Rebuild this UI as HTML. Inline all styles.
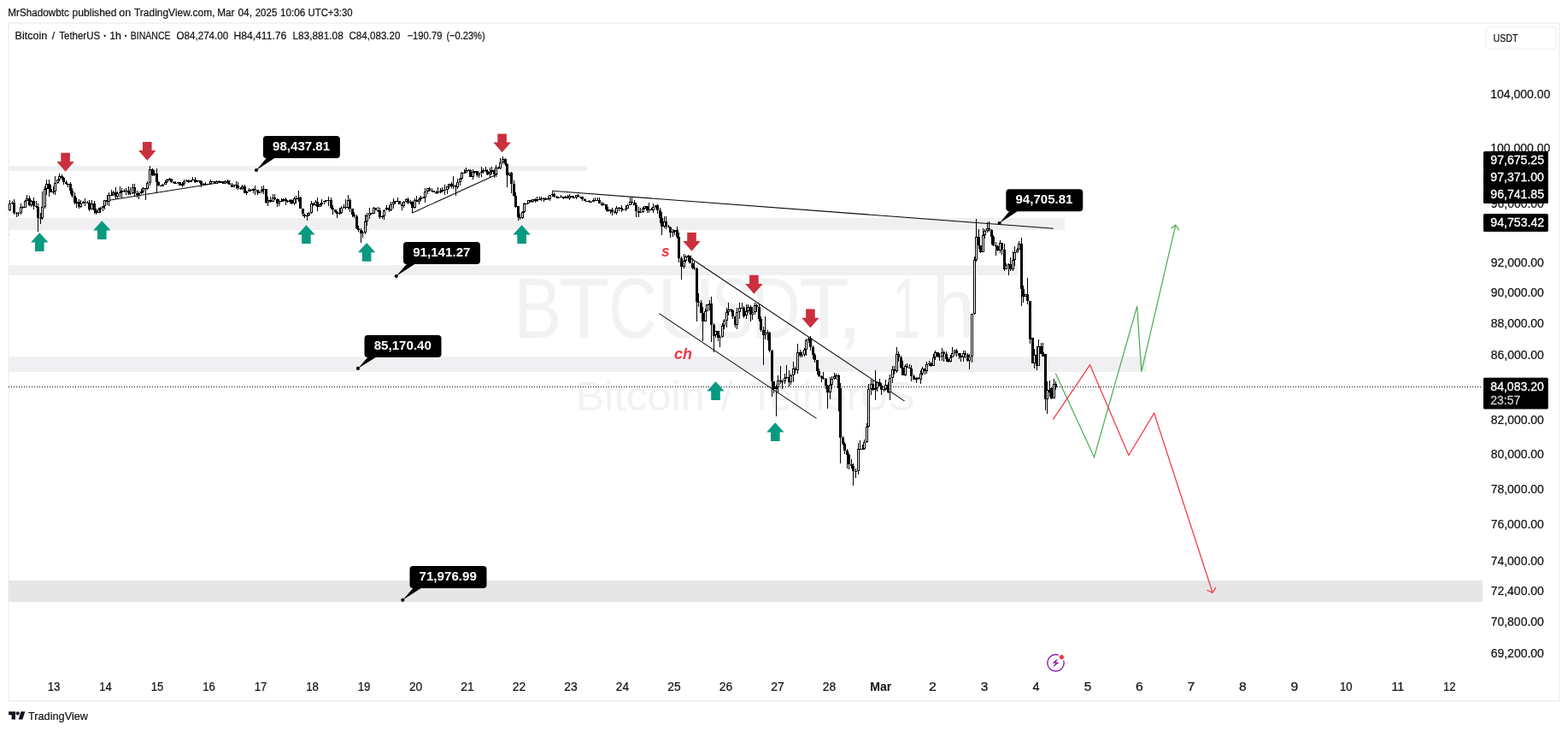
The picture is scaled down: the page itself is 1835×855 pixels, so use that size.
<!DOCTYPE html><html><head><meta charset="utf-8"><title>BTCUSDT chart</title><style>html,body{margin:0;padding:0;background:#fff;overflow:hidden}svg{display:block}</style></head><body><svg width="1835" height="855" viewBox="0 0 1835 855" font-family='"Liberation Sans", Arial, sans-serif'>
<rect width="1835" height="855" fill="#fff"/>
<text y="19.0" font-size="12.5" fill="#111111" font-weight="normal" stroke="#111111" stroke-width="0.22"><tspan x="9.34" textLength="71.57" lengthAdjust="spacingAndGlyphs">MrShadowbtc</tspan> <tspan x="84.52" textLength="51.86" lengthAdjust="spacingAndGlyphs">published</tspan> <tspan x="139.37" textLength="13.94" lengthAdjust="spacingAndGlyphs">on</tspan> <tspan x="156.93" textLength="94.63" lengthAdjust="spacingAndGlyphs">TradingView.com,</tspan> <tspan x="254.24" textLength="20.15" lengthAdjust="spacingAndGlyphs">Mar</tspan> <tspan x="278.44" textLength="16.53" lengthAdjust="spacingAndGlyphs">04,</tspan> <tspan x="298.72" textLength="25.56" lengthAdjust="spacingAndGlyphs">2025</tspan> <tspan x="328.11" textLength="29.2" lengthAdjust="spacingAndGlyphs">10:06</tspan> <tspan x="360.52" textLength="52.02" lengthAdjust="spacingAndGlyphs">UTC+3:30</tspan></text>
<rect x="10" y="27" width="1815" height="793" fill="#fff" stroke="#f3f3f4" stroke-width="2" shape-rendering="crispEdges"/>
<text y="394.9" font-size="101" fill="#f2f2f3" font-weight="normal"><tspan x="601.43" textLength="55.89" lengthAdjust="spacingAndGlyphs">B</tspan><tspan x="654.02" textLength="59.2" lengthAdjust="spacingAndGlyphs">T</tspan><tspan x="711.91" textLength="56.79" lengthAdjust="spacingAndGlyphs">C</tspan><tspan x="769.19" textLength="67.53" lengthAdjust="spacingAndGlyphs">U</tspan><tspan x="832.79" textLength="48.55" lengthAdjust="spacingAndGlyphs">S</tspan><tspan x="879.28" textLength="57.43" lengthAdjust="spacingAndGlyphs">D</tspan><tspan x="935.15" textLength="58.34" lengthAdjust="spacingAndGlyphs">T</tspan><tspan x="977.97" textLength="32.55" lengthAdjust="spacingAndGlyphs">,</tspan></text>
<text y="394.9" font-size="101" fill="#f2f2f3" font-weight="normal"><tspan x="1044.43" textLength="32.63" lengthAdjust="spacingAndGlyphs">1</tspan><tspan x="1090.49" textLength="50.62" lengthAdjust="spacingAndGlyphs">h</tspan></text>
<text y="479.8" font-size="48.5" fill="#f2f2f3" font-weight="normal"><tspan x="673.88" textLength="150.68" lengthAdjust="spacingAndGlyphs">Bitcoin</tspan> <tspan x="843.5" textLength="14.3" lengthAdjust="spacingAndGlyphs">/</tspan> <tspan x="877.59" textLength="193.08" lengthAdjust="spacingAndGlyphs">TetherUS</tspan></text>
<rect x="10" y="194" width="677" height="6" fill="#f0f0f2" shape-rendering="crispEdges"/>
<rect x="10" y="255" width="1236" height="14" fill="#f0f0f2" shape-rendering="crispEdges"/>
<rect x="10" y="310" width="1181" height="12" fill="#f0f0f2" shape-rendering="crispEdges"/>
<rect x="10" y="417" width="1332" height="18" fill="#f0f0f2" shape-rendering="crispEdges"/>
<rect x="10" y="679" width="1725" height="25" fill="#e6e6e6" shape-rendering="crispEdges"/>
<line x1="10" y1="452.5" x2="1735" y2="452.5" stroke="#0a0a0a" stroke-width="1" stroke-dasharray="1 2" shape-rendering="crispEdges"/>
<line x1="126.1" y1="234.5" x2="269.6" y2="211.6" stroke="#0a0a0a" stroke-width="1.05" fill="none"/>
<line x1="481.9" y1="249.3" x2="582.6" y2="203.4" stroke="#0a0a0a" stroke-width="1.05" fill="none"/>
<line x1="645.9" y1="223.3" x2="1232.7" y2="267.2" stroke="#0a0a0a" stroke-width="1.05" fill="none"/>
<line x1="804.6" y1="299.5" x2="1058.6" y2="469.1" stroke="#0a0a0a" stroke-width="1.05" fill="none"/>
<line x1="771.3" y1="366.6" x2="955.5" y2="489.4" stroke="#0a0a0a" stroke-width="1.05" fill="none"/>
<clipPath id="pane"><rect x="10" y="28" width="1725" height="791"/></clipPath><g clip-path="url(#pane)">
<path d="M9.5 241.2V246.7M11.5 234.4V247.4M14.5 234.9V239.1M16.5 233.2V250.7M19.5 248.0V254.0M21.5 247.8V253.1M24.5 238.2V250.7M26.5 241.1V243.9M29.5 233.7V242.9M31.5 227.6V234.9M34.5 228.8V241.0M36.5 234.3V241.9M39.5 231.4V245.0M42.5 235.2V243.3M44.5 237.6V271.0M47.5 249.0V262.0M49.5 223.5V257.2M52.5 217.8V243.9M54.5 209.9V227.7M57.5 210.4V230.0M59.5 215.5V224.9M62.5 218.4V226.6M64.5 206.3V227.7M67.5 210.0V215.3M69.5 202.9V212.1M72.5 204.0V210.3M74.5 206.9V215.8M77.5 210.9V216.4M79.5 214.5V219.3M82.5 212.7V226.8M84.5 219.9V230.6M87.5 224.5V238.9M89.5 230.9V243.2M92.5 233.4V243.8M94.5 234.0V242.5M97.5 235.2V238.4M99.5 232.2V241.4M102.5 235.2V238.3M104.5 233.7V247.0M107.5 234.4V245.0M110.5 234.7V249.9M112.5 243.6V251.0M115.5 243.3V249.4M117.5 241.9V249.4M120.5 240.9V246.6M122.5 233.7V245.0M125.5 227.7V239.7M127.5 225.4V240.8M130.5 222.4V228.4M132.5 223.0V228.5M135.5 218.6V233.2M137.5 223.5V231.7M140.5 218.1V231.2M142.5 219.8V231.7M145.5 220.5V225.3M147.5 220.4V228.0M150.5 218.1V227.8M152.5 219.1V227.8M155.5 214.5V226.9M157.5 215.1V230.4M160.5 223.3V230.8M162.5 224.1V232.9M165.5 220.6V227.0M167.5 219.4V226.0M170.5 219.8V234.0M172.5 211.8V221.7M175.5 194.4V216.8M178.5 196.7V206.3M180.5 199.1V205.6M183.5 196.8V226.0M185.5 212.1V218.2M188.5 215.6V217.7M190.5 215.1V218.3M193.5 211.3V215.9M195.5 208.9V213.8M198.5 207.9V210.5M200.5 209.3V214.1M203.5 211.8V214.5M205.5 212.3V215.0M208.5 212.5V214.5M210.5 212.7V217.2M213.5 213.1V218.9M215.5 210.1V216.8M218.5 210.3V213.0M220.5 209.6V213.5M223.5 210.8V213.0M225.5 207.0V211.0M228.5 207.3V213.9M230.5 210.6V213.1M233.5 210.5V214.3M235.5 211.1V218.8M238.5 213.7V217.1M240.5 212.9V215.8M243.5 214.6V215.3M246.5 209.8V216.3M248.5 211.7V212.6M251.5 212.4V215.3M253.5 210.7V214.9M256.5 211.3V214.2M258.5 211.7V212.5M261.5 212.1V214.6M263.5 211.2V214.8M266.5 210.2V214.5M268.5 210.8V216.3M271.5 214.4V218.8M273.5 215.5V219.3M276.5 212.4V220.6M278.5 213.2V222.0M281.5 219.4V221.6M283.5 216.3V221.6M286.5 216.4V226.0M288.5 223.0V228.0M291.5 220.0V224.3M293.5 221.1V223.5M296.5 220.3V225.5M298.5 217.4V228.0M301.5 221.6V227.8M303.5 224.0V225.6M306.5 218.0V225.6M308.5 216.7V226.5M311.5 220.5V238.1M313.5 229.6V241.1M316.5 230.4V236.9M319.5 226.6V235.8M321.5 227.3V234.4M324.5 231.8V242.0M326.5 233.1V240.5M329.5 232.0V236.1M331.5 232.3V235.8M334.5 230.8V240.0M336.5 233.5V236.5M339.5 233.2V237.6M341.5 232.9V238.5M344.5 230.1V239.6M346.5 229.3V237.6M349.5 222.5V236.3M351.5 229.6V244.1M354.5 243.5V252.8M356.5 250.0V254.6M359.5 248.6V257.8M361.5 248.1V252.5M364.5 235.4V250.0M366.5 237.0V240.6M369.5 233.9V240.7M371.5 230.7V246.8M374.5 237.5V242.4M376.5 232.8V241.4M379.5 234.7V239.3M381.5 233.5V237.4M384.5 230.4V240.9M387.5 230.6V244.7M389.5 240.4V251.1M392.5 245.1V248.9M394.5 246.5V254.5M397.5 242.6V250.5M399.5 240.6V249.7M402.5 238.9V244.3M404.5 233.0V245.1M407.5 228.0V244.6M409.5 231.9V248.3M412.5 243.6V254.2M414.5 248.3V254.6M417.5 251.4V268.3M419.5 264.3V270.5M422.5 267.2V283.7M424.5 270.2V277.5M427.5 251.4V274.2M429.5 249.2V264.2M432.5 242.8V255.5M434.5 249.1V251.1M437.5 242.0V250.0M439.5 243.3V245.6M442.5 242.0V247.5M444.5 243.3V256.4M447.5 252.2V256.0M449.5 244.8V256.6M452.5 240.3V245.5M455.5 240.2V248.1M457.5 236.1V246.5M460.5 231.8V244.2M462.5 234.5V239.0M465.5 231.3V235.8M467.5 235.0V238.7M470.5 236.7V246.0M472.5 234.9V242.7M475.5 232.3V236.6M477.5 230.8V238.5M480.5 234.4V238.8M482.5 234.5V248.8M485.5 231.8V243.7M487.5 228.8V236.4M490.5 231.1V239.0M492.5 229.0V235.3M495.5 229.5V231.7M497.5 220.1V236.7M500.5 220.0V226.8M502.5 219.0V223.5M505.5 220.2V224.0M507.5 222.5V225.3M510.5 222.8V226.9M512.5 218.7V227.1M515.5 219.7V225.6M517.5 218.7V225.0M520.5 215.8V227.8M523.5 218.0V227.1M525.5 214.6V221.3M528.5 213.3V219.6M530.5 205.9V220.6M533.5 216.2V228.9M535.5 208.9V220.8M538.5 208.3V216.5M540.5 200.6V210.1M543.5 198.1V203.0M545.5 195.5V202.0M548.5 198.0V199.8M550.5 197.6V207.2M553.5 198.4V209.7M555.5 199.8V203.4M558.5 200.3V207.2M560.5 201.6V207.6M563.5 195.3V207.0M565.5 197.0V202.7M568.5 194.5V201.0M570.5 198.0V205.0M573.5 196.4V207.5M575.5 195.0V204.4M578.5 198.2V207.5M580.5 192.7V206.8M583.5 194.5V197.7M585.5 185.4V197.6M588.5 182.9V192.3M591.5 184.9V194.0M593.5 191.3V219.0M596.5 201.5V205.9M598.5 200.7V226.1M601.5 210.7V229.5M603.5 224.9V242.9M606.5 241.0V257.5M608.5 250.1V257.0M611.5 247.0V255.5M613.5 236.5V248.6M616.5 237.8V238.3M618.5 234.0V238.4M621.5 233.9V237.3M623.5 232.5V236.6M626.5 232.4V236.9M628.5 230.4V235.9M631.5 230.4V234.3M633.5 230.2V234.8M636.5 230.8V236.4M638.5 231.4V234.3M641.5 229.9V233.6M643.5 227.9V235.2M646.5 224.4V229.9M648.5 225.4V230.7M651.5 229.4V231.8M653.5 229.6V231.7M656.5 228.3V231.3M659.5 229.5V233.4M661.5 229.1V232.3M664.5 228.3V232.3M666.5 227.4V233.7M669.5 229.0V230.8M671.5 228.9V231.0M674.5 228.0V232.9M676.5 227.4V230.6M679.5 229.7V231.9M681.5 229.9V234.5M684.5 232.4V234.9M686.5 234.5V236.3M689.5 234.4V237.1M691.5 234.9V236.4M694.5 232.2V235.8M696.5 231.1V234.8M699.5 231.2V234.9M701.5 230.6V237.9M704.5 236.2V240.5M706.5 236.5V239.8M709.5 238.5V246.6M711.5 241.5V247.9M714.5 244.7V250.2M716.5 243.3V252.0M719.5 246.2V250.3M721.5 240.8V251.2M724.5 241.6V246.5M727.5 239.8V248.4M729.5 244.7V245.5M732.5 240.3V246.7M734.5 238.9V244.3M737.5 231.0V240.4M739.5 231.2V239.1M742.5 233.9V240.1M744.5 236.9V254.0M747.5 241.9V253.5M749.5 243.0V248.9M752.5 241.6V248.8M754.5 240.7V244.6M757.5 241.1V249.0M759.5 237.0V249.1M762.5 243.2V246.4M764.5 238.1V248.7M767.5 239.6V244.1M769.5 239.3V250.4M772.5 243.4V260.8M774.5 247.7V275.0M777.5 252.6V267.4M779.5 253.0V268.0M782.5 262.8V266.4M784.5 264.8V278.0M787.5 267.5V276.8M789.5 269.3V275.0M792.5 264.6V278.5M794.5 272.3V306.8M797.5 300.0V326.8M800.5 297.4V313.6M802.5 298.0V307.4M805.5 297.9V305.9M807.5 298.7V308.3M810.5 301.5V314.7M812.5 305.7V316.3M815.5 313.4V375.6M817.5 343.0V358.9M820.5 351.4V366.3M822.5 359.4V399.4M825.5 360.9V376.1M827.5 355.9V363.7M830.5 351.0V363.3M832.5 347.3V400.0M835.5 377.7V412.0M837.5 386.8V394.8M840.5 386.6V399.2M842.5 391.6V406.0M845.5 378.4V395.1M847.5 373.1V384.9M850.5 359.6V382.6M852.5 353.5V368.9M855.5 361.4V364.5M857.5 362.3V372.7M860.5 370.2V382.8M862.5 359.5V384.7M865.5 354.0V372.6M868.5 353.5V361.0M870.5 358.2V372.3M873.5 355.9V373.0M875.5 356.0V366.3M878.5 357.4V376.0M880.5 358.5V373.9M883.5 353.9V368.2M885.5 354.5V365.1M888.5 356.2V376.4M890.5 369.9V388.4M893.5 382.4V426.7M895.5 370.0V397.2M898.5 385.7V397.9M900.5 387.8V411.6M903.5 409.0V464.0M905.5 445.9V459.5M908.5 450.3V487.3M910.5 439.4V459.4M913.5 427.5V449.1M915.5 443.8V455.0M918.5 437.4V449.1M920.5 426.7V442.6M923.5 432.7V452.0M925.5 437.1V450.4M928.5 422.7V446.8M930.5 429.0V437.1M933.5 402.0V437.2M936.5 409.4V417.9M938.5 410.8V418.0M941.5 406.5V416.6M943.5 396.0V415.8M946.5 393.8V400.8M948.5 393.0V410.2M951.5 404.2V419.7M953.5 412.9V424.2M956.5 420.5V437.5M958.5 431.3V440.8M961.5 438.5V447.0M963.5 435.0V443.8M966.5 441.5V455.1M968.5 450.0V478.3M971.5 441.2V467.4M973.5 440.0V454.7M976.5 436.0V444.4M978.5 436.9V444.2M981.5 437.9V481.0M983.5 448.3V541.6M986.5 510.4V520.5M988.5 517.4V531.3M991.5 525.2V548.0M993.5 530.1V548.8M996.5 537.4V548.3M998.5 542.0V567.8M1001.5 548.1V558.6M1004.5 518.0V555.0M1006.5 515.0V525.4M1009.5 519.5V526.0M1011.5 513.7V526.4M1014.5 494.5V517.7M1016.5 448.5V500.4M1019.5 444.0V462.0M1021.5 444.0V457.2M1024.5 433.0V468.0M1026.5 445.7V457.5M1029.5 443.4V452.4M1031.5 447.5V462.2M1034.5 454.5V458.4M1036.5 443.6V456.6M1039.5 446.6V460.4M1041.5 438.2V467.5M1044.5 427.8V447.5M1046.5 427.9V438.0M1049.5 406.0V436.1M1051.5 411.0V423.3M1054.5 416.4V430.7M1056.5 421.8V439.4M1059.5 425.5V439.9M1061.5 425.0V430.4M1064.5 425.5V431.4M1066.5 427.2V446.0M1069.5 437.9V444.2M1072.5 441.2V447.5M1074.5 441.3V443.8M1077.5 433.1V448.6M1079.5 429.3V438.8M1082.5 431.2V438.0M1084.5 423.4V437.0M1087.5 421.7V428.1M1089.5 423.1V428.6M1092.5 414.4V428.1M1094.5 410.3V421.1M1097.5 411.5V418.4M1099.5 412.8V422.0M1102.5 407.0V421.7M1104.5 410.1V423.1M1107.5 410.8V423.1M1109.5 418.2V424.0M1112.5 414.9V424.0M1114.5 405.5V418.1M1117.5 408.7V415.7M1119.5 408.3V416.6M1122.5 413.4V420.4M1124.5 413.2V423.2M1127.5 409.7V422.5M1129.5 410.4V419.0M1132.5 413.2V423.0M1134.5 414.0V432.2M1137.5 366.5V424.3M1140.5 299.9V367.9M1142.5 256.0V305.8M1145.5 267.5V290.5M1147.5 286.5V296.4M1150.5 267.0V295.3M1152.5 267.8V279.4M1155.5 260.1V272.1M1157.5 258.5V270.6M1160.5 268.4V286.4M1162.5 275.2V287.8M1165.5 282.6V299.4M1167.5 286.5V293.9M1170.5 281.3V296.1M1172.5 283.7V298.3M1175.5 285.4V317.2M1177.5 307.7V315.2M1180.5 308.0V322.4M1182.5 301.2V317.0M1185.5 293.8V316.6M1187.5 287.6V310.8M1190.5 290.2V296.3M1192.5 282.4V292.4M1195.5 278.0V358.0M1197.5 333.9V354.4M1200.5 343.6V346.9M1202.5 325.0V356.4M1205.5 351.5V401.5M1208.5 395.4V424.9M1210.5 408.0V430.5M1213.5 405.0V432.6M1215.5 396.8V428.4M1218.5 401.0V413.7M1220.5 401.0V417.2M1223.5 413.7V479.6M1225.5 446.0V483.8M1228.5 445.0V464.0M1230.5 453.0V467.0M1233.5 443.0V465.6M1235.5 446.0V456.0" stroke="#000" stroke-width="1" fill="none" shape-rendering="crispEdges"/>
<path d="M8 242.0h3v4.0h-3zM15 237.1h3v12.1h-3zM25 241.7h3v1.0h-3zM33 231.5h3v8.1h-3zM38 235.0h3v6.4h-3zM41 241.4h3v1.0h-3zM43 241.6h3v13.3h-3zM46 254.9h3v1.0h-3zM56 215.1h3v6.3h-3zM58 221.4h3v3.3h-3zM71 206.2h3v1.3h-3zM73 207.5h3v5.1h-3zM76 212.6h3v2.2h-3zM78 214.8h3v1.0h-3zM81 214.9h3v7.7h-3zM83 222.6h3v6.6h-3zM86 229.1h3v8.3h-3zM91 236.3h3v5.3h-3zM98 236.4h3v1.0h-3zM103 236.6h3v8.3h-3zM109 238.0h3v7.7h-3zM111 245.7h3v3.4h-3zM124 234.4h3v1.6h-3zM129 227.6h3v1.0h-3zM134 225.1h3v4.5h-3zM146 222.8h3v1.0h-3zM149 222.9h3v3.1h-3zM151 226.1h3v1.0h-3zM156 218.7h3v7.0h-3zM159 225.7h3v1.9h-3zM169 220.0h3v1.0h-3zM177 197.9h3v7.3h-3zM182 202.5h3v10.8h-3zM184 213.3h3v3.8h-3zM187 217.1h3v1.0h-3zM199 209.4h3v3.2h-3zM202 212.6h3v1.4h-3zM204 214.0h3v1.0h-3zM209 213.2h3v3.5h-3zM219 210.7h3v2.1h-3zM227 209.8h3v2.7h-3zM232 211.4h3v1.0h-3zM234 212.4h3v3.9h-3zM242 214.6h3v1.0h-3zM247 211.8h3v1.0h-3zM250 212.4h3v2.3h-3zM255 211.7h3v1.0h-3zM260 212.4h3v2.2h-3zM265 211.9h3v2.0h-3zM267 213.9h3v1.6h-3zM270 215.5h3v3.1h-3zM275 215.9h3v1.2h-3zM277 217.1h3v2.5h-3zM280 219.6h3v1.3h-3zM285 218.1h3v7.4h-3zM292 221.6h3v1.0h-3zM297 221.4h3v1.0h-3zM300 222.1h3v2.9h-3zM310 221.1h3v15.4h-3zM315 233.6h3v2.2h-3zM320 230.9h3v1.9h-3zM323 232.8h3v5.6h-3zM328 234.6h3v1.0h-3zM333 232.9h3v2.3h-3zM335 235.2h3v1.0h-3zM340 234.1h3v4.2h-3zM345 232.4h3v1.0h-3zM350 230.5h3v13.1h-3zM353 243.6h3v6.8h-3zM355 250.5h3v2.4h-3zM365 237.7h3v1.9h-3zM370 235.5h3v6.0h-3zM383 234.0h3v1.0h-3zM386 234.2h3v8.9h-3zM388 243.2h3v2.1h-3zM391 245.3h3v2.9h-3zM393 248.2h3v2.0h-3zM403 241.7h3v1.3h-3zM408 233.5h3v10.3h-3zM411 243.8h3v6.8h-3zM413 250.7h3v2.5h-3zM416 253.1h3v13.4h-3zM418 266.6h3v2.7h-3zM421 269.3h3v3.6h-3zM433 249.1h3v1.0h-3zM438 243.3h3v2.2h-3zM441 245.5h3v1.0h-3zM443 245.6h3v8.4h-3zM454 242.5h3v3.5h-3zM464 234.9h3v1.0h-3zM466 235.3h3v3.2h-3zM469 238.5h3v2.5h-3zM476 233.3h3v3.3h-3zM481 236.0h3v6.7h-3zM486 234.4h3v1.9h-3zM494 230.7h3v1.0h-3zM501 220.2h3v3.0h-3zM506 223.1h3v1.9h-3zM527 214.9h3v3.3h-3zM532 216.6h3v2.7h-3zM547 199.1h3v1.0h-3zM549 199.2h3v7.7h-3zM557 200.4h3v5.0h-3zM567 199.4h3v1.0h-3zM569 200.2h3v4.2h-3zM577 198.8h3v4.7h-3zM582 195.5h3v1.1h-3zM590 185.6h3v6.6h-3zM592 192.3h3v12.2h-3zM597 202.3h3v12.5h-3zM600 214.7h3v14.4h-3zM602 229.2h3v12.3h-3zM605 241.4h3v12.1h-3zM607 253.5h3v1.7h-3zM615 237.9h3v1.0h-3zM620 234.4h3v1.9h-3zM625 233.1h3v1.6h-3zM630 233.0h3v1.0h-3zM635 231.9h3v1.5h-3zM640 231.8h3v1.0h-3zM647 226.7h3v3.1h-3zM650 229.8h3v1.1h-3zM652 230.9h3v1.0h-3zM658 229.8h3v2.2h-3zM663 229.5h3v2.1h-3zM668 229.4h3v1.3h-3zM675 228.2h3v1.7h-3zM678 229.9h3v1.0h-3zM680 229.9h3v3.5h-3zM683 233.4h3v1.3h-3zM685 234.7h3v1.0h-3zM688 234.8h3v1.1h-3zM695 234.0h3v1.0h-3zM700 233.7h3v4.0h-3zM703 237.7h3v1.9h-3zM708 238.5h3v6.3h-3zM710 244.9h3v1.9h-3zM715 245.2h3v2.7h-3zM718 247.9h3v1.3h-3zM723 242.8h3v1.0h-3zM726 242.9h3v1.8h-3zM728 244.7h3v1.0h-3zM738 236.0h3v1.3h-3zM741 237.3h3v2.4h-3zM743 239.7h3v7.0h-3zM746 246.7h3v1.9h-3zM756 241.4h3v4.5h-3zM761 244.8h3v1.3h-3zM768 239.7h3v5.8h-3zM771 245.5h3v9.7h-3zM773 255.2h3v9.7h-3zM778 258.5h3v6.1h-3zM781 264.6h3v1.4h-3zM783 266.1h3v6.3h-3zM791 269.4h3v7.8h-3zM793 277.2h3v25.1h-3zM796 302.2h3v9.7h-3zM806 299.4h3v8.5h-3zM809 307.9h3v4.8h-3zM811 312.7h3v1.0h-3zM814 313.6h3v39.3h-3zM816 352.9h3v1.2h-3zM819 354.1h3v11.5h-3zM821 365.6h3v10.4h-3zM831 355.4h3v24.4h-3zM834 379.8h3v12.7h-3zM839 387.0h3v7.6h-3zM854 362.4h3v1.0h-3zM856 362.5h3v7.9h-3zM859 370.3h3v9.5h-3zM867 359.9h3v1.0h-3zM869 360.0h3v9.5h-3zM877 359.2h3v9.2h-3zM884 357.3h3v1.9h-3zM887 359.2h3v13.9h-3zM889 373.1h3v12.8h-3zM892 385.9h3v6.2h-3zM897 388.5h3v1.0h-3zM899 389.1h3v21.2h-3zM902 410.3h3v35.6h-3zM904 445.9h3v9.4h-3zM912 445.3h3v1.0h-3zM922 440.8h3v6.0h-3zM929 431.1h3v2.1h-3zM935 412.0h3v3.7h-3zM947 396.4h3v9.2h-3zM950 405.6h3v9.2h-3zM952 414.8h3v6.2h-3zM955 421.0h3v12.6h-3zM957 433.6h3v6.0h-3zM960 439.6h3v2.2h-3zM962 441.8h3v1.5h-3zM965 443.3h3v7.9h-3zM967 451.2h3v8.0h-3zM980 438.5h3v15.2h-3zM982 453.7h3v58.5h-3zM985 512.1h3v7.0h-3zM987 519.1h3v7.6h-3zM990 526.7h3v5.5h-3zM992 532.3h3v10.3h-3zM995 542.5h3v2.3h-3zM997 544.8h3v6.6h-3zM1005 524.9h3v1.0h-3zM1020 448.9h3v7.5h-3zM1028 446.6h3v5.8h-3zM1030 452.4h3v4.0h-3zM1038 449.8h3v9.5h-3zM1045 432.3h3v1.4h-3zM1050 413.8h3v4.3h-3zM1053 418.0h3v11.8h-3zM1055 429.9h3v8.9h-3zM1060 428.4h3v1.8h-3zM1063 430.2h3v1.0h-3zM1065 430.7h3v9.7h-3zM1068 440.4h3v3.5h-3zM1073 442.2h3v1.2h-3zM1081 431.4h3v2.5h-3zM1088 424.8h3v2.9h-3zM1096 411.7h3v5.1h-3zM1103 412.3h3v1.9h-3zM1106 414.2h3v6.0h-3zM1108 420.1h3v3.0h-3zM1118 409.7h3v3.7h-3zM1121 413.4h3v3.0h-3zM1123 416.4h3v1.9h-3zM1128 413.1h3v2.1h-3zM1131 415.3h3v6.5h-3zM1144 277.1h3v10.3h-3zM1146 287.3h3v7.6h-3zM1156 267.3h3v1.9h-3zM1159 269.1h3v7.4h-3zM1161 276.5h3v10.0h-3zM1164 286.5h3v1.3h-3zM1166 287.8h3v5.0h-3zM1171 284.2h3v7.4h-3zM1174 291.6h3v22.9h-3zM1181 309.0h3v5.6h-3zM1194 284.8h3v53.4h-3zM1196 338.2h3v8.4h-3zM1201 344.4h3v7.4h-3zM1204 351.8h3v45.3h-3zM1207 395.4h3v29.5h-3zM1212 415.0h3v13.0h-3zM1217 404.5h3v9.2h-3zM1219 412.3h3v4.9h-3zM1222 413.7h3v53.3h-3zM1227 455.7h3v3.3h-3zM1229 453.6h3v12.7h-3zM1234 448.7h3v4.3h-3z" fill="#000" shape-rendering="crispEdges"/>
<path d="M10.5 238.4h2v7.1h-2zM13.5 237.6h2v0.2h-2zM18.5 249.5h2v0.2h-2zM20.5 249.2h2v0.2h-2zM23.5 242.2h2v6.0h-2zM28.5 235.3h2v6.8h-2zM30.5 232.0h2v2.3h-2zM35.5 235.5h2v3.6h-2zM48.5 242.1h2v12.6h-2zM51.5 221.7h2v19.3h-2zM53.5 215.6h2v5.1h-2zM61.5 224.7h2v0.2h-2zM63.5 214.2h2v9.5h-2zM66.5 210.7h2v2.5h-2zM68.5 206.7h2v3.0h-2zM88.5 236.8h2v0.2h-2zM93.5 238.0h2v3.1h-2zM96.5 236.9h2v0.2h-2zM101.5 237.1h2v0.2h-2zM106.5 238.5h2v5.9h-2zM114.5 245.5h2v3.1h-2zM116.5 243.7h2v0.8h-2zM119.5 241.6h2v1.2h-2zM121.5 234.9h2v5.7h-2zM126.5 228.1h2v7.4h-2zM131.5 225.6h2v2.0h-2zM136.5 226.8h2v2.2h-2zM139.5 225.5h2v0.3h-2zM141.5 223.6h2v0.9h-2zM144.5 223.3h2v0.2h-2zM154.5 219.2h2v6.4h-2zM161.5 226.1h2v0.9h-2zM164.5 224.2h2v1.0h-2zM166.5 220.5h2v2.6h-2zM171.5 214.5h2v5.8h-2zM174.5 198.4h2v15.1h-2zM179.5 203.0h2v1.6h-2zM189.5 216.3h2v0.7h-2zM192.5 213.3h2v2.0h-2zM194.5 210.6h2v1.7h-2zM197.5 209.9h2v0.2h-2zM207.5 213.7h2v0.2h-2zM212.5 215.9h2v0.3h-2zM214.5 212.7h2v2.2h-2zM217.5 211.2h2v0.5h-2zM222.5 211.3h2v0.9h-2zM224.5 210.3h2v0.2h-2zM229.5 211.9h2v0.2h-2zM237.5 215.6h2v0.2h-2zM239.5 215.1h2v0.2h-2zM245.5 212.3h2v2.3h-2zM252.5 212.2h2v2.0h-2zM257.5 212.9h2v0.2h-2zM262.5 212.4h2v1.7h-2zM272.5 216.4h2v1.7h-2zM282.5 218.6h2v1.9h-2zM287.5 224.8h2v0.2h-2zM290.5 222.1h2v1.7h-2zM295.5 221.9h2v0.2h-2zM302.5 224.9h2v0.2h-2zM305.5 222.8h2v1.1h-2zM307.5 221.6h2v0.2h-2zM312.5 234.1h2v2.0h-2zM318.5 231.4h2v3.8h-2zM325.5 235.1h2v2.7h-2zM330.5 233.4h2v1.1h-2zM338.5 234.6h2v0.8h-2zM343.5 232.9h2v4.8h-2zM348.5 231.0h2v1.2h-2zM358.5 252.3h2v0.2h-2zM360.5 249.0h2v2.3h-2zM363.5 238.2h2v9.8h-2zM368.5 236.0h2v3.1h-2zM373.5 239.7h2v1.3h-2zM375.5 237.0h2v1.8h-2zM378.5 235.4h2v0.5h-2zM380.5 234.5h2v0.2h-2zM396.5 249.4h2v0.4h-2zM398.5 243.3h2v5.0h-2zM401.5 242.2h2v0.2h-2zM406.5 234.0h2v8.6h-2zM423.5 272.6h2v0.2h-2zM426.5 259.2h2v12.4h-2zM428.5 252.1h2v6.2h-2zM431.5 249.6h2v1.4h-2zM436.5 243.8h2v5.5h-2zM446.5 253.5h2v0.2h-2zM448.5 246.0h2v6.5h-2zM451.5 243.0h2v1.9h-2zM456.5 239.4h2v6.1h-2zM459.5 236.7h2v1.7h-2zM461.5 235.4h2v0.3h-2zM471.5 236.2h2v4.2h-2zM474.5 233.8h2v1.4h-2zM479.5 236.5h2v0.2h-2zM484.5 234.9h2v7.4h-2zM489.5 233.5h2v2.3h-2zM491.5 231.2h2v1.3h-2zM496.5 224.6h2v6.1h-2zM499.5 220.7h2v2.9h-2zM504.5 223.6h2v0.2h-2zM509.5 225.3h2v0.2h-2zM511.5 224.7h2v0.2h-2zM514.5 224.5h2v0.2h-2zM516.5 222.8h2v0.7h-2zM519.5 222.1h2v0.2h-2zM522.5 218.7h2v2.3h-2zM524.5 215.4h2v2.3h-2zM529.5 217.1h2v0.7h-2zM534.5 213.4h2v5.4h-2zM537.5 209.6h2v2.8h-2zM539.5 202.8h2v5.8h-2zM542.5 202.0h2v0.2h-2zM544.5 199.6h2v1.4h-2zM552.5 201.8h2v4.6h-2zM554.5 200.9h2v0.2h-2zM559.5 202.3h2v2.5h-2zM562.5 201.4h2v0.2h-2zM564.5 199.9h2v0.4h-2zM572.5 201.0h2v2.9h-2zM574.5 199.3h2v0.7h-2zM579.5 196.0h2v7.0h-2zM584.5 190.2h2v5.9h-2zM587.5 186.1h2v3.1h-2zM595.5 202.8h2v1.2h-2zM610.5 248.2h2v6.5h-2zM612.5 238.4h2v8.7h-2zM617.5 234.9h2v2.7h-2zM622.5 233.6h2v2.2h-2zM627.5 233.5h2v0.7h-2zM632.5 232.4h2v0.2h-2zM637.5 232.3h2v0.7h-2zM642.5 228.8h2v3.3h-2zM645.5 227.2h2v0.6h-2zM655.5 230.3h2v0.4h-2zM660.5 230.0h2v1.5h-2zM665.5 229.9h2v1.1h-2zM670.5 231.1h2v0.2h-2zM673.5 228.7h2v1.3h-2zM690.5 236.0h2v0.2h-2zM693.5 234.5h2v0.5h-2zM698.5 234.2h2v0.2h-2zM705.5 239.0h2v0.2h-2zM713.5 245.7h2v0.6h-2zM720.5 243.3h2v5.5h-2zM731.5 244.4h2v0.2h-2zM733.5 240.0h2v3.4h-2zM736.5 236.5h2v2.5h-2zM748.5 248.1h2v0.2h-2zM751.5 244.1h2v3.0h-2zM753.5 241.9h2v1.2h-2zM758.5 245.3h2v0.2h-2zM763.5 242.4h2v3.1h-2zM766.5 240.2h2v1.3h-2zM776.5 259.0h2v5.4h-2zM786.5 271.7h2v0.2h-2zM788.5 269.9h2v0.8h-2zM799.5 305.5h2v5.9h-2zM801.5 300.8h2v3.6h-2zM804.5 299.9h2v0.2h-2zM824.5 364.1h2v11.4h-2zM826.5 356.8h2v6.3h-2zM829.5 355.9h2v0.2h-2zM836.5 387.5h2v4.4h-2zM841.5 394.6h2v0.2h-2zM844.5 381.4h2v12.2h-2zM846.5 375.0h2v5.4h-2zM849.5 365.6h2v8.4h-2zM851.5 362.9h2v1.6h-2zM861.5 365.6h2v13.7h-2zM864.5 360.4h2v4.3h-2zM872.5 364.5h2v4.4h-2zM874.5 359.7h2v3.8h-2zM879.5 365.8h2v2.1h-2zM882.5 357.8h2v7.0h-2zM894.5 389.0h2v2.6h-2zM907.5 453.8h2v1.0h-2zM909.5 445.8h2v7.0h-2zM914.5 446.5h2v0.2h-2zM917.5 442.1h2v3.5h-2zM919.5 441.3h2v0.2h-2zM924.5 439.2h2v7.0h-2zM927.5 431.6h2v6.6h-2zM932.5 412.5h2v20.2h-2zM937.5 415.4h2v0.2h-2zM940.5 409.1h2v5.3h-2zM942.5 398.7h2v9.4h-2zM945.5 396.9h2v0.8h-2zM970.5 450.8h2v7.9h-2zM972.5 443.5h2v6.4h-2zM975.5 440.0h2v2.4h-2zM977.5 439.0h2v0.2h-2zM1000.5 551.3h2v0.2h-2zM1003.5 525.4h2v24.8h-2zM1008.5 525.4h2v0.2h-2zM1010.5 517.9h2v6.5h-2zM1013.5 499.6h2v17.3h-2zM1015.5 455.7h2v42.9h-2zM1018.5 449.4h2v5.3h-2zM1023.5 454.4h2v1.5h-2zM1025.5 447.1h2v6.3h-2zM1033.5 455.5h2v0.4h-2zM1035.5 450.3h2v4.2h-2zM1040.5 442.1h2v16.8h-2zM1043.5 432.8h2v8.3h-2zM1048.5 414.3h2v18.8h-2zM1058.5 428.9h2v9.3h-2zM1071.5 442.7h2v0.7h-2zM1076.5 437.3h2v5.7h-2zM1078.5 431.9h2v4.4h-2zM1083.5 426.8h2v6.6h-2zM1086.5 425.3h2v0.4h-2zM1091.5 418.3h2v8.9h-2zM1093.5 412.2h2v5.1h-2zM1098.5 417.0h2v0.2h-2zM1101.5 412.8h2v3.2h-2zM1111.5 418.1h2v4.5h-2zM1113.5 413.7h2v3.5h-2zM1116.5 410.2h2v2.5h-2zM1126.5 413.6h2v4.2h-2zM1133.5 417.0h2v4.2h-2zM1136.5 367.0h2v49.0h-2zM1139.5 304.0h2v62.0h-2zM1141.5 277.6h2v25.5h-2zM1149.5 275.8h2v18.6h-2zM1151.5 270.3h2v4.5h-2zM1154.5 267.8h2v1.5h-2zM1169.5 284.7h2v7.6h-2zM1176.5 310.7h2v3.4h-2zM1179.5 309.5h2v0.2h-2zM1184.5 304.6h2v9.5h-2zM1186.5 295.2h2v8.4h-2zM1189.5 292.8h2v1.3h-2zM1191.5 285.3h2v6.5h-2zM1199.5 344.9h2v1.2h-2zM1209.5 415.5h2v8.9h-2zM1214.5 405.0h2v22.9h-2zM1224.5 456.2h2v10.3h-2zM1232.5 449.2h2v15.9h-2z" fill="#fff" stroke="#000" stroke-width="1" shape-rendering="crispEdges"/>
</g>
<polyline points="1235.3,436.8 1280.5,534.7 1330.7,358.2 1335.8,434.7 1375.8,263.2" fill="none" stroke="#4caf50" stroke-width="1.25" stroke-linejoin="miter"/>
<polyline points="1370.4,267.2 1375.8,263.2 1380,269.3" fill="none" stroke="#4caf50" stroke-width="1.25"/>
<polyline points="1232.3,490.7 1275.6,426.7 1320.9,532.5 1350.7,483.3 1419.1,693.3" fill="none" stroke="#f23645" stroke-width="1.25"/>
<polyline points="1412.6,690.3 1419.1,693.3 1422.8,687.1" fill="none" stroke="#f23645" stroke-width="1.25"/>
<path d="M76.6 200.7l-10.25 -11.7h4.95v-10.2h10.6v10.2h4.95z" fill="#cc2f3c"/>
<path d="M172.3 187.8l-10.25 -11.7h4.95v-10.2h10.6v10.2h4.95z" fill="#cc2f3c"/>
<path d="M587.6 178.3l-10.25 -11.7h4.95v-10.2h10.6v10.2h4.95z" fill="#cc2f3c"/>
<path d="M809.5 293.8l-10.25 -11.7h4.95v-10.2h10.6v10.2h4.95z" fill="#cc2f3c"/>
<path d="M882.4 343.7l-10.25 -11.7h4.95v-10.2h10.6v10.2h4.95z" fill="#cc2f3c"/>
<path d="M948.4 383.5l-10.25 -11.7h4.95v-10.2h10.6v10.2h4.95z" fill="#cc2f3c"/>
<path d="M46.3 272.2l-10.25 11.3h4.95v10.4h10.6v-10.4h4.95z" fill="#089981"/>
<path d="M119.3 258.2l-10.25 11.3h4.95v10.4h10.6v-10.4h4.95z" fill="#089981"/>
<path d="M358.4 263.2l-10.25 11.3h4.95v10.4h10.6v-10.4h4.95z" fill="#089981"/>
<path d="M429.1 284l-10.25 11.3h4.95v10.4h10.6v-10.4h4.95z" fill="#089981"/>
<path d="M610.6 263.2l-10.25 11.3h4.95v10.4h10.6v-10.4h4.95z" fill="#089981"/>
<path d="M837.5 446.3l-10.25 11.3h4.95v10.4h10.6v-10.4h4.95z" fill="#089981"/>
<path d="M907.3 494.3l-10.25 11.3h4.95v10.4h10.6v-10.4h4.95z" fill="#089981"/>
<rect x="10" y="274" width="1" height="1" fill="#7fcbbd"/>
<text x="774" y="299.8" font-size="17.5" fill="#f23645" font-weight="bold" font-style="italic" text-anchor="start">s</text>
<text x="789" y="420" font-size="17.5" fill="#f23645" font-weight="bold" font-style="italic" text-anchor="start" textLength="21" lengthAdjust="spacingAndGlyphs">ch</text>
<path d="M300 199L311.9 184.70000000000002L321.5 184.70000000000002z" fill="#000"/>
<circle cx="300" cy="199" r="2.1" fill="#000"/>
<rect x="307.9" y="158.9" width="90" height="26" rx="4" fill="#000"/>
<text x="319.08" y="176.0" font-size="14.3" fill="#fff" font-weight="bold" font-style="normal" text-anchor="start" textLength="67.04" lengthAdjust="spacingAndGlyphs">98,437.81</text>
<path d="M463.7 323L476 308.8L485.6 308.8z" fill="#000"/>
<circle cx="463.7" cy="323" r="2.1" fill="#000"/>
<rect x="472" y="283" width="90" height="26" rx="4" fill="#000"/>
<text x="483.18" y="300.1" font-size="14.3" fill="#fff" font-weight="bold" font-style="normal" text-anchor="start" textLength="67.29" lengthAdjust="spacingAndGlyphs">91,141.27</text>
<path d="M418.9 430.9L430.5 417.8L440.1 417.8z" fill="#000"/>
<circle cx="418.9" cy="430.9" r="2.1" fill="#000"/>
<rect x="426.5" y="392" width="90" height="26" rx="4" fill="#000"/>
<text x="437.72" y="409.1" font-size="14.3" fill="#fff" font-weight="bold" font-style="normal" text-anchor="start" textLength="67.2" lengthAdjust="spacingAndGlyphs">85,170.40</text>
<path d="M1169.6 261L1181.3 247.0L1190.8999999999999 247.0z" fill="#000"/>
<circle cx="1169.6" cy="261" r="2.1" fill="#000"/>
<rect x="1177.3" y="221.2" width="90" height="26" rx="4" fill="#000"/>
<text x="1188.48" y="238.29999999999998" font-size="14.3" fill="#fff" font-weight="bold" font-style="normal" text-anchor="start" textLength="67.04" lengthAdjust="spacingAndGlyphs">94,705.81</text>
<path d="M471.3 701.8L483.5 687.8L493.1 687.8z" fill="#000"/>
<circle cx="471.3" cy="701.8" r="2.1" fill="#000"/>
<rect x="479.5" y="662" width="90" height="26" rx="4" fill="#000"/>
<text x="490.55" y="679.1" font-size="14.3" fill="#fff" font-weight="bold" font-style="normal" text-anchor="start" textLength="67.31" lengthAdjust="spacingAndGlyphs">71,976.99</text>
<text y="45.8" font-size="12.5" fill="#111111" stroke="#111111" stroke-width="0.22"><tspan x="17.57" textLength="37.75" lengthAdjust="spacingAndGlyphs">Bitcoin</tspan> <tspan x="60.66">/</tspan> <tspan x="69.25" textLength="47.86" lengthAdjust="spacingAndGlyphs">TetherUS</tspan> <tspan x="119.37" y="47.4" font-size="20" stroke-width="0">·</tspan> <tspan y="45.8" x="128.16" textLength="13.74" lengthAdjust="spacingAndGlyphs">1h</tspan> <tspan x="143.77" y="47.4" font-size="20" stroke-width="0">·</tspan> <tspan y="45.8" x="152.74" textLength="46.82" lengthAdjust="spacingAndGlyphs">BINANCE</tspan> <tspan x="206.45" textLength="60.81" lengthAdjust="spacingAndGlyphs">O84,274.00</tspan> <tspan x="273.42" textLength="61.91" lengthAdjust="spacingAndGlyphs">H84,411.76</tspan> <tspan x="342.43" textLength="59.39" lengthAdjust="spacingAndGlyphs">L83,881.08</tspan> <tspan x="408.51" textLength="59.94" lengthAdjust="spacingAndGlyphs">C84,083.20</tspan> <tspan x="476.44" textLength="41.09" lengthAdjust="spacingAndGlyphs">−190.79</tspan> <tspan x="522.41" textLength="45.17" lengthAdjust="spacingAndGlyphs">(−0.23%)</tspan></text>
<text x="1744.34" y="114.8" font-size="13.8" fill="#111111" font-weight="normal" font-style="normal" text-anchor="start" textLength="69.91" lengthAdjust="spacingAndGlyphs" stroke="#111111" stroke-width="0.22">104,000.00</text>
<text x="1744.34" y="177.8" font-size="13.8" fill="#111111" font-weight="normal" font-style="normal" text-anchor="start" textLength="69.91" lengthAdjust="spacingAndGlyphs" stroke="#111111" stroke-width="0.22">100,000.00</text>
<text x="1744.75" y="243.3" font-size="13.8" fill="#111111" font-weight="normal" font-style="normal" text-anchor="start" textLength="62.1" lengthAdjust="spacingAndGlyphs" stroke="#111111" stroke-width="0.22">96,000.00</text>
<text x="1744.75" y="311.6" font-size="13.8" fill="#111111" font-weight="normal" font-style="normal" text-anchor="start" textLength="62.1" lengthAdjust="spacingAndGlyphs" stroke="#111111" stroke-width="0.22">92,000.00</text>
<text x="1744.75" y="346.9" font-size="13.8" fill="#111111" font-weight="normal" font-style="normal" text-anchor="start" textLength="62.1" lengthAdjust="spacingAndGlyphs" stroke="#111111" stroke-width="0.22">90,000.00</text>
<text x="1744.79" y="383.0" font-size="13.8" fill="#111111" font-weight="normal" font-style="normal" text-anchor="start" textLength="62.05" lengthAdjust="spacingAndGlyphs" stroke="#111111" stroke-width="0.22">88,000.00</text>
<text x="1744.79" y="419.9" font-size="13.8" fill="#111111" font-weight="normal" font-style="normal" text-anchor="start" textLength="62.05" lengthAdjust="spacingAndGlyphs" stroke="#111111" stroke-width="0.22">86,000.00</text>
<text x="1744.79" y="496.3" font-size="13.8" fill="#111111" font-weight="normal" font-style="normal" text-anchor="start" textLength="62.05" lengthAdjust="spacingAndGlyphs" stroke="#111111" stroke-width="0.22">82,000.00</text>
<text x="1744.79" y="536.0" font-size="13.8" fill="#111111" font-weight="normal" font-style="normal" text-anchor="start" textLength="62.05" lengthAdjust="spacingAndGlyphs" stroke="#111111" stroke-width="0.22">80,000.00</text>
<text x="1744.68" y="576.6" font-size="13.8" fill="#111111" font-weight="normal" font-style="normal" text-anchor="start" textLength="62.16" lengthAdjust="spacingAndGlyphs" stroke="#111111" stroke-width="0.22">78,000.00</text>
<text x="1744.68" y="618.3" font-size="13.8" fill="#111111" font-weight="normal" font-style="normal" text-anchor="start" textLength="62.16" lengthAdjust="spacingAndGlyphs" stroke="#111111" stroke-width="0.22">76,000.00</text>
<text x="1744.68" y="661.1" font-size="13.8" fill="#111111" font-weight="normal" font-style="normal" text-anchor="start" textLength="62.16" lengthAdjust="spacingAndGlyphs" stroke="#111111" stroke-width="0.22">74,000.00</text>
<text x="1744.68" y="696.2" font-size="13.8" fill="#111111" font-weight="normal" font-style="normal" text-anchor="start" textLength="62.16" lengthAdjust="spacingAndGlyphs" stroke="#111111" stroke-width="0.22">72,400.00</text>
<text x="1744.68" y="732.1" font-size="13.8" fill="#111111" font-weight="normal" font-style="normal" text-anchor="start" textLength="62.16" lengthAdjust="spacingAndGlyphs" stroke="#111111" stroke-width="0.22">70,800.00</text>
<text x="1744.69" y="768.8" font-size="13.8" fill="#111111" font-weight="normal" font-style="normal" text-anchor="start" textLength="62.16" lengthAdjust="spacingAndGlyphs" stroke="#111111" stroke-width="0.22">69,200.00</text>
<rect x="1736" y="177" width="75.8" height="21" rx="1.5" fill="#000"/>
<text x="1744.34" y="192.2" font-size="13.8" fill="#fff" font-weight="normal" font-style="normal" text-anchor="start" textLength="62.65" lengthAdjust="spacingAndGlyphs" stroke="#fff" stroke-width="0.3">97,675.25</text>
<rect x="1736" y="197" width="75.8" height="21" rx="1.5" fill="#000"/>
<text x="1744.34" y="212.1" font-size="13.8" fill="#fff" font-weight="normal" font-style="normal" text-anchor="start" textLength="62.61" lengthAdjust="spacingAndGlyphs" stroke="#fff" stroke-width="0.3">97,371.00</text>
<rect x="1736" y="217" width="75.8" height="21" rx="1.5" fill="#000"/>
<text x="1744.34" y="232.1" font-size="13.8" fill="#fff" font-weight="normal" font-style="normal" text-anchor="start" textLength="62.65" lengthAdjust="spacingAndGlyphs" stroke="#fff" stroke-width="0.3">96,741.85</text>
<rect x="1736" y="250" width="75.8" height="21" rx="1.5" fill="#000"/>
<text x="1744.34" y="264.9" font-size="13.8" fill="#fff" font-weight="normal" font-style="normal" text-anchor="start" textLength="62.77" lengthAdjust="spacingAndGlyphs" stroke="#fff" stroke-width="0.3">94,753.42</text>
<rect x="1736" y="441.8" width="75.8" height="36.7" rx="1.5" fill="#000"/>
<text x="1744.39" y="457" font-size="13.8" fill="#fff" font-weight="normal" font-style="normal" text-anchor="start" textLength="62.36" lengthAdjust="spacingAndGlyphs" stroke="#fff" stroke-width="0.3">84,083.20</text>
<text x="1744.3" y="472.8" font-size="13.8" fill="#cfcfcf" font-weight="normal" font-style="normal" text-anchor="start" textLength="35.01" lengthAdjust="spacingAndGlyphs" stroke="#cfcfcf" stroke-width="0.3">23:57</text>
<rect x="1739.2" y="31.2" width="81.6" height="25.9" rx="3.6" fill="#fff" stroke="#f2f2f3" stroke-width="1.5"/>
<text x="1747.48" y="48.9" font-size="12.5" fill="#111111" font-weight="normal" font-style="normal" text-anchor="start" textLength="28.97" lengthAdjust="spacingAndGlyphs" stroke="#111111" stroke-width="0.22">USDT</text>
<text x="55.69" y="808.1" font-size="14.1" fill="#111111" font-weight="normal" font-style="normal" text-anchor="start" textLength="14.69" lengthAdjust="spacingAndGlyphs" stroke="#111111" stroke-width="0.22">13</text>
<text x="116.2" y="808.1" font-size="14.1" fill="#111111" font-weight="normal" font-style="normal" text-anchor="start" textLength="14.47" lengthAdjust="spacingAndGlyphs" stroke="#111111" stroke-width="0.22">14</text>
<text x="176.68" y="808.1" font-size="14.1" fill="#111111" font-weight="normal" font-style="normal" text-anchor="start" textLength="14.66" lengthAdjust="spacingAndGlyphs" stroke="#111111" stroke-width="0.22">15</text>
<text x="237.16" y="808.1" font-size="14.1" fill="#111111" font-weight="normal" font-style="normal" text-anchor="start" textLength="14.69" lengthAdjust="spacingAndGlyphs" stroke="#111111" stroke-width="0.22">16</text>
<text x="297.65" y="808.1" font-size="14.1" fill="#111111" font-weight="normal" font-style="normal" text-anchor="start" textLength="14.78" lengthAdjust="spacingAndGlyphs" stroke="#111111" stroke-width="0.22">17</text>
<text x="358.14" y="808.1" font-size="14.1" fill="#111111" font-weight="normal" font-style="normal" text-anchor="start" textLength="14.68" lengthAdjust="spacingAndGlyphs" stroke="#111111" stroke-width="0.22">18</text>
<text x="418.63" y="808.1" font-size="14.1" fill="#111111" font-weight="normal" font-style="normal" text-anchor="start" textLength="14.74" lengthAdjust="spacingAndGlyphs" stroke="#111111" stroke-width="0.22">19</text>
<text x="478.89" y="808.1" font-size="14.1" fill="#111111" font-weight="normal" font-style="normal" text-anchor="start" textLength="15.33" lengthAdjust="spacingAndGlyphs" stroke="#111111" stroke-width="0.22">20</text>
<text x="539.37" y="808.1" font-size="14.1" fill="#111111" font-weight="normal" font-style="normal" text-anchor="start" textLength="15.48" lengthAdjust="spacingAndGlyphs" stroke="#111111" stroke-width="0.22">21</text>
<text x="599.86" y="808.1" font-size="14.1" fill="#111111" font-weight="normal" font-style="normal" text-anchor="start" textLength="15.5" lengthAdjust="spacingAndGlyphs" stroke="#111111" stroke-width="0.22">22</text>
<text x="660.35" y="808.1" font-size="14.1" fill="#111111" font-weight="normal" font-style="normal" text-anchor="start" textLength="15.41" lengthAdjust="spacingAndGlyphs" stroke="#111111" stroke-width="0.22">23</text>
<text x="720.85" y="808.1" font-size="14.1" fill="#111111" font-weight="normal" font-style="normal" text-anchor="start" textLength="15.19" lengthAdjust="spacingAndGlyphs" stroke="#111111" stroke-width="0.22">24</text>
<text x="781.33" y="808.1" font-size="14.1" fill="#111111" font-weight="normal" font-style="normal" text-anchor="start" textLength="15.38" lengthAdjust="spacingAndGlyphs" stroke="#111111" stroke-width="0.22">25</text>
<text x="841.82" y="808.1" font-size="14.1" fill="#111111" font-weight="normal" font-style="normal" text-anchor="start" textLength="15.41" lengthAdjust="spacingAndGlyphs" stroke="#111111" stroke-width="0.22">26</text>
<text x="902.31" y="808.1" font-size="14.1" fill="#111111" font-weight="normal" font-style="normal" text-anchor="start" textLength="15.5" lengthAdjust="spacingAndGlyphs" stroke="#111111" stroke-width="0.22">27</text>
<text x="962.8" y="808.1" font-size="14.1" fill="#111111" font-weight="normal" font-style="normal" text-anchor="start" textLength="15.4" lengthAdjust="spacingAndGlyphs" stroke="#111111" stroke-width="0.22">28</text>
<text x="1018.16" y="808.1" font-size="14.1" fill="#111111" font-weight="bold" font-style="normal" text-anchor="start" textLength="25.06" lengthAdjust="spacingAndGlyphs">Mar</text>
<text x="1087.07" y="808.1" font-size="14.1" fill="#111111" font-weight="normal" font-style="normal" text-anchor="start" textLength="8.91" lengthAdjust="spacingAndGlyphs" stroke="#111111" stroke-width="0.22">2</text>
<text x="1147.78" y="808.1" font-size="14.1" fill="#111111" font-weight="normal" font-style="normal" text-anchor="start" textLength="8.56" lengthAdjust="spacingAndGlyphs" stroke="#111111" stroke-width="0.22">3</text>
<text x="1208.53" y="808.1" font-size="14.1" fill="#111111" font-weight="normal" font-style="normal" text-anchor="start" textLength="8.06" lengthAdjust="spacingAndGlyphs" stroke="#111111" stroke-width="0.22">4</text>
<text x="1268.73" y="808.1" font-size="14.1" fill="#111111" font-weight="normal" font-style="normal" text-anchor="start" textLength="8.56" lengthAdjust="spacingAndGlyphs" stroke="#111111" stroke-width="0.22">5</text>
<text x="1329.04" y="808.1" font-size="14.1" fill="#111111" font-weight="normal" font-style="normal" text-anchor="start" textLength="8.8" lengthAdjust="spacingAndGlyphs" stroke="#111111" stroke-width="0.22">6</text>
<text x="1389.51" y="808.1" font-size="14.1" fill="#111111" font-weight="normal" font-style="normal" text-anchor="start" textLength="8.93" lengthAdjust="spacingAndGlyphs" stroke="#111111" stroke-width="0.22">7</text>
<text x="1450.14" y="808.1" font-size="14.1" fill="#111111" font-weight="normal" font-style="normal" text-anchor="start" textLength="8.65" lengthAdjust="spacingAndGlyphs" stroke="#111111" stroke-width="0.22">8</text>
<text x="1510.57" y="808.1" font-size="14.1" fill="#111111" font-weight="normal" font-style="normal" text-anchor="start" textLength="8.79" lengthAdjust="spacingAndGlyphs" stroke="#111111" stroke-width="0.22">9</text>
<text x="1567.95" y="808.1" font-size="14.1" fill="#111111" font-weight="normal" font-style="normal" text-anchor="start" textLength="14.61" lengthAdjust="spacingAndGlyphs" stroke="#111111" stroke-width="0.22">10</text>
<text x="1628.43" y="808.1" font-size="14.1" fill="#111111" font-weight="normal" font-style="normal" text-anchor="start" textLength="14.76" lengthAdjust="spacingAndGlyphs" stroke="#111111" stroke-width="0.22">11</text>
<text x="1688.92" y="808.1" font-size="14.1" fill="#111111" font-weight="normal" font-style="normal" text-anchor="start" textLength="14.78" lengthAdjust="spacingAndGlyphs" stroke="#111111" stroke-width="0.22">12</text>
<g transform="translate(1235.5,775.35)"><circle r="9.75" fill="#fff" stroke="#8e24aa" stroke-width="1.45"/><path d="M2.4 -5.2L-4.2 0.5H-0.5L-3.2 5.4L4.2 -0.5H0.6Z" fill="#8e24aa"/><circle cx="6.9" cy="-6.75" r="4.5" fill="#fff"/><circle cx="6.9" cy="-6.75" r="2.6" fill="#f23645"/></g>
<path d="M10.1 832.3h7.9v9.1h-4.4v-5.1h-3.5z M24.5 832.3h4.9l-3 9.1h-4.7z" fill="#131722"/><circle cx="20.7" cy="834.3" r="2.15" fill="#131722"/>
<text x="33.02" y="842.1" font-size="13.6" fill="#111111" font-weight="normal" font-style="normal" text-anchor="start" textLength="69.95" lengthAdjust="spacingAndGlyphs" stroke="#111111" stroke-width="0.22">TradingView</text>
</svg></body></html>
